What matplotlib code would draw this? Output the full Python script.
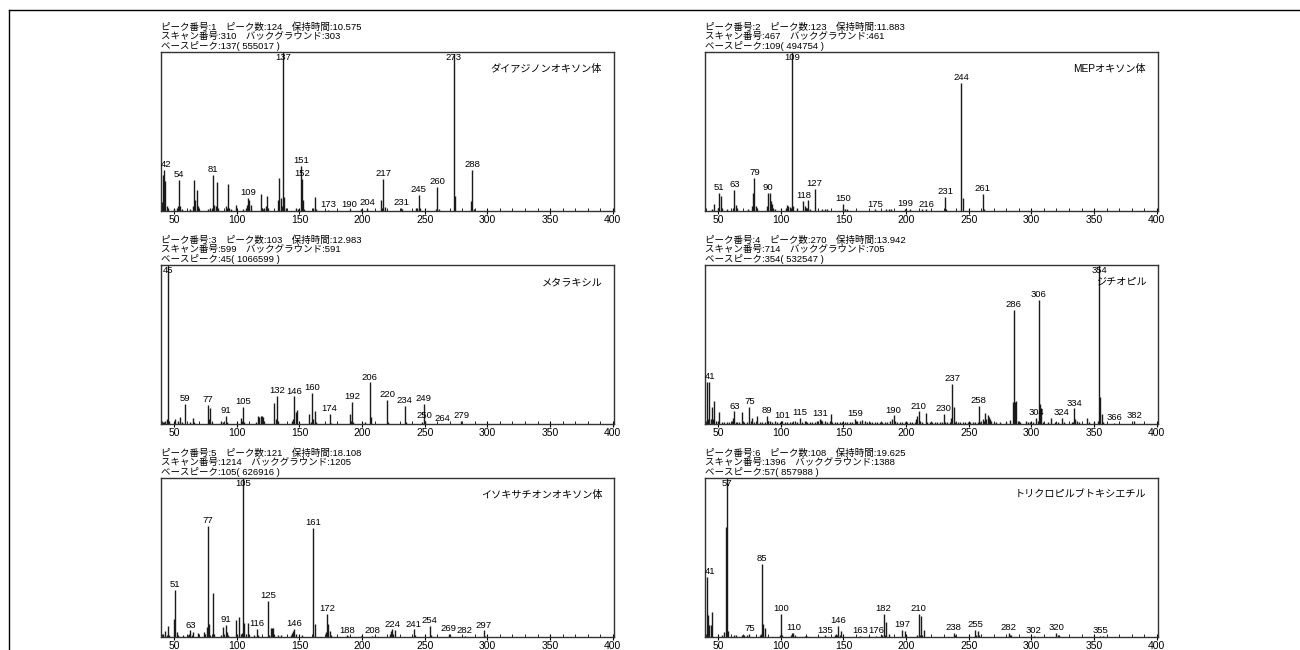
import matplotlib
matplotlib.use('Agg')
import matplotlib.pyplot as plt
from matplotlib.lines import Line2D
from matplotlib.ticker import MultipleLocator

plt.rcParams['font.family'] = ['Liberation Sans', 'Noto Sans CJK JP']

# ---------------- Panel 1 ----------------
p1_name = "ダイアジノンオキソン体"
p1_header = ["ピーク番号:1　ピーク数:124　保持時間:10.575",
             "スキャン番号:310　バックグラウンド:303",
             "ベースピーク:137( 555017 )"]
p1_mz = [40, 41, 42, 43, 44, 45, 50, 52, 53, 54, 55, 56, 63, 65, 66, 67, 68, 69, 70, 77,
         79, 80, 81, 82, 83, 84, 85, 91, 92, 93, 94, 95, 99, 105, 107, 108, 109, 110, 111,
         119, 120, 121, 122, 123, 124, 125, 133, 134, 135, 136, 137, 138, 139, 147, 149,
         151, 152, 153, 154, 161, 162, 163, 173, 190, 199, 204, 215, 216, 217, 218, 231,
         232, 243, 244, 245, 246, 259, 260, 261, 273, 274, 287, 288, 289]
p1_int = [5.7, 22.5, 26, 19, 3, 2, 1, 2, 3, 19.4, 3, 1, 1, 3, 19.4, 6.7, 13, 3, 1, 1,
          2, 1.5, 22.5, 4, 3, 18, 2, 3, 2, 17, 2, 1, 4, 1, 2, 4, 8.4, 6.7, 4,
          11, 2, 1, 2, 3, 9.3, 2, 7, 21, 8, 3, 100, 9, 2, 2, 1,
          28.4, 20.4, 6.7, 1, 2, 9, 1, 0.5, 1, 1.5, 2, 6.7, 2, 20, 2.5, 2,
          1.5, 2, 2, 10.3, 2, 1, 15.2, 1.5, 99, 9.3, 6, 25.7, 1.5]
p1_labels = [42, 54, 81, 109, 137, 151, 152, 173, 190, 204, 217, 231, 245, 260, 273, 288]

# ---------------- Panel 2 ----------------
p2_name = "MEPオキソン体"
p2_header = ["ピーク番号:2　ピーク数:123　保持時間:11.883",
             "スキャン番号:467　バックグラウンド:461",
             "ベースピーク:109( 494754 )"]
p2_mz = [45, 47, 50, 51, 52, 53, 57, 62, 63, 64, 65, 74, 77, 78, 79, 80, 81, 89, 90, 91,
         92, 93, 94, 95, 104, 105, 106, 107, 108, 109, 110, 113, 118, 119, 120, 121, 122,
         123, 127, 133, 135, 137, 150, 151, 153, 175, 184, 186, 188, 199, 200, 203, 213,
         216, 231, 232, 244, 245, 261, 262]
p2_int = [1, 4.2, 2, 11.4, 9.3, 2, 1, 2, 13.5, 4, 2, 1, 3, 11.6, 21, 3, 2, 3, 11.4, 11.4,
          6, 4.5, 2, 1, 2, 4, 3, 2.5, 2, 100, 3, 2, 6.3, 3, 2, 2, 6.7,
          1, 14, 1, 1.5, 1, 4.2, 1, 1, 1, 1, 1, 1, 1.5, 0.5, 1, 1,
          1, 8.8, 1, 80.4, 8.4, 11, 1]
p2_labels = [51, 63, 79, 90, 109, 118, 127, 150, 175, 199, 216, 231, 244, 261]

# ---------------- Panel 3 ----------------
p3_name = "メタラキシル"
p3_header = ["ピーク番号:3　ピーク数:103　保持時間:12.983",
             "スキャン番号:599　バックグラウンド:591",
             "ベースピーク:45( 1066599 )"]
p3_mz = [41, 42, 43, 44, 45, 46, 51, 53, 55, 56, 59, 63, 65, 66, 77, 78, 79, 80, 87, 89,
         91, 92, 103, 104, 105, 106, 115, 117, 118, 119, 120, 121, 122, 130, 131, 132, 133,
         144, 145, 146, 147, 148, 158, 159, 160, 161, 162, 163, 174, 175, 190, 191, 192,
         193, 202, 206, 207, 220, 221, 234, 235, 248, 249, 250, 264, 279]
p3_int = [1, 1, 2, 3, 100, 2, 3, 2, 4.6, 1, 12.5, 1, 4, 1, 11.9, 3, 10, 1, 2, 1,
          5, 1, 4, 2, 10.8, 1, 1, 5, 4.5, 5, 5, 4.5, 2, 13.5, 3, 17.9, 2,
          2, 3, 17.3, 7.5, 9, 6.25, 1, 19.6, 3, 7.9, 1, 6.25, 0.5, 6.25, 2, 13.75,
          1, 1.5, 26.2, 4.6, 15.2, 1, 11.5, 1, 1.5, 12.5, 2, 0.3, 2]
p3_labels = [45, 59, 77, 91, 105, 132, 146, 160, 174, 192, 206, 220, 234, 249, 250, 264, 279]

# ---------------- Panel 4 ----------------
p4_name = "ジチオピル"
p4_header = ["ピーク番号:4　ピーク数:270　保持時間:13.942",
             "スキャン番号:714　バックグラウンド:705",
             "ベースピーク:354( 532547 )"]
p4_mz = [41, 42, 43, 44, 45, 46, 47, 48, 50, 51, 53, 55, 57, 59, 61, 62, 63, 64, 65, 67,
         69, 71, 73, 75, 76, 77, 79, 81, 83, 85, 87, 89, 90, 91, 93, 95, 97, 99, 101, 103,
         105, 107, 109, 111, 113, 115, 117, 119, 121, 123, 125, 127, 129, 131, 132, 133,
         135, 137, 139, 140, 141, 143, 145, 147, 149, 151, 153, 155, 157, 159, 160, 161,
         163, 165, 167, 169, 171, 173, 175, 177, 179, 181, 183, 185, 187, 189, 190, 191,
         193, 195, 197, 199, 201, 203, 205, 207, 208, 209, 210, 211, 213, 216, 217, 219,
         221, 223, 225, 227, 229, 230, 231, 233, 235, 236, 237, 238, 239, 241, 243, 245,
         247, 249, 251, 253, 255, 257, 258, 259, 261, 262, 263, 264, 265, 266, 267, 268,
         270, 272, 275, 280, 283, 285, 286, 287, 288, 289, 291, 296, 297, 299, 301, 304,
         305, 306, 307, 308, 309, 313, 316, 319, 321, 324, 326, 332, 333, 334, 335, 336,
         338, 344, 346, 350, 353, 354, 355, 356, 357, 366, 373, 382]
p4_int = [26.5, 3, 26.5, 3, 10.8, 3, 14.5, 2, 1, 7.3, 1, 1.5, 1, 1, 2, 4, 7.9, 1.5, 1, 1,
          7.3, 1, 1, 10.8, 2, 4, 1, 5, 1, 1, 1, 5, 2, 2, 1, 2, 1, 1, 2, 1,
          1, 1.5, 1, 2, 1, 3.7, 1, 2, 1.5, 1, 1, 1.5, 2, 3, 2.5, 2,
          2, 1.5, 2, 6.2, 1, 1, 1.5, 1, 1, 1.5, 1, 1, 1.5, 3, 1.5, 2,
          2, 2.5, 2, 1.5, 1, 1, 1, 1, 1.5, 1, 1, 1.5, 2, 3, 5.4, 2,
          1, 1, 1, 1.5, 1, 1, 1, 1.5, 3, 5, 7.9, 2, 1, 6.8, 1.5, 1,
          1.5, 1, 1, 1.5, 1, 6.2, 1.5, 1, 1, 4, 25.3, 10.4, 1.5, 1, 1.5, 1,
          1, 1, 1, 1.5, 1, 1.5, 11.6, 1, 3, 2, 7, 3, 5.5, 4.5, 3, 2,
          1, 1, 1, 1, 2.5, 14, 72, 14, 14.5, 2, 1, 2, 1, 1, 1, 3.7,
          2, 77.8, 12.4, 10, 1.5, 1, 3.7, 1, 1, 3.7, 1, 1, 1.5, 9.8, 3, 2,
          1, 3.7, 1, 1, 2, 100, 17, 6, 1, 0.5, 0.3, 1.7]
p4_labels = [41, 63, 75, 89, 101, 115, 131, 159, 190, 210, 230, 237, 258, 286, 304, 306,
             324, 334, 354, 366, 382]

# ---------------- Panel 5 ----------------
p5_name = "イソキサチオンオキソン体"
p5_header = ["ピーク番号:5　ピーク数:121　保持時間:18.108",
             "スキャン番号:1214　バックグラウンド:1205",
             "ベースピーク:105( 626916 )"]
p5_mz = [41, 43, 44, 45, 46, 50, 51, 52, 53, 57, 61, 62, 63, 64, 65, 69, 74, 75, 76, 77,
         78, 79, 81, 82, 87, 89, 90, 91, 92, 93, 99, 100, 102, 103, 104, 105, 106, 107,
         109, 110, 114, 116, 117, 125, 126, 127, 128, 129, 130, 133, 135, 143, 144, 145,
         146, 147, 152, 161, 162, 171, 172, 173, 174, 175, 188, 189, 199, 208, 222, 223,
         224, 225, 226, 241, 242, 254, 255, 269, 270, 282, 297, 298]
p5_int = [2, 3.5, 1, 7, 1, 11.4, 29.5, 3, 1, 1, 1, 2, 4.1, 1, 3, 2.5, 3, 2, 6, 69.9,
          8, 1, 27.8, 2, 1, 6.2, 1, 7.7, 3, 1, 10.4, 1, 12.4, 2, 2.5, 100, 8.7, 2,
          9, 1, 1, 5, 1, 22.8, 1, 5.8, 5.5, 5.5, 1.5, 1, 1, 1.5, 2.5, 4,
          5, 2, 1, 68.5, 8.3, 3, 14.5, 7.9, 3.5, 1, 1, 0.5, 0.5, 0.5, 2, 3.5,
          4.8, 2, 4.1, 4.8, 1, 6.8, 1, 2, 1, 0.5, 4.1, 0.5]
p5_labels = [51, 63, 77, 91, 105, 116, 125, 146, 161, 172, 188, 208, 224, 241, 254, 269,
             282, 297]

# ---------------- Panel 6 ----------------
p6_name = "トリクロピルブトキシエチル"
p6_header = ["ピーク番号:6　ピーク数:108　保持時間:19.625",
             "スキャン番号:1396　バックグラウンド:1388",
             "ベースピーク:57( 857988 )"]
p6_mz = [41, 42, 43, 44, 45, 53, 55, 56, 57, 58, 63, 64, 69, 71, 73, 75, 83, 84, 85, 86,
         87, 99, 100, 101, 108, 109, 110, 111, 119, 121, 135, 143, 144, 145, 146, 147, 148,
         163, 170, 176, 180, 181, 182, 183, 184, 186, 197, 199, 200, 209, 210, 211, 212,
         213, 214, 238, 239, 255, 256, 257, 258, 282, 283, 284, 302, 320, 321, 322, 355, 357]
p6_int = [37.7, 14, 7.5, 7.5, 15.6, 1, 3, 69.4, 100, 4, 1, 1, 1, 1, 1.5, 1.7, 1, 2, 45.8, 8.3,
          5.8, 1, 14.6, 1, 1.5, 2.5, 2.7, 1.5, 0.5, 0.5, 1, 1.5, 2, 1, 6.9, 1, 3.75,
          0.5, 0.5, 0.5, 1, 1, 14.6, 1.5, 9.6, 2, 4.6, 3.5, 1, 1, 14.6, 1.5, 12.9,
          1, 4.2, 2.7, 1, 4.4, 1, 3.5, 1, 2.7, 1, 1.5, 0.5, 2.7, 1, 1.5, 0.6, 0.5]
p6_labels = [41, 57, 75, 85, 100, 110, 135, 146, 163, 176, 182, 197, 210, 238, 255, 282,
             302, 320, 355]

panels = [
    (p1_mz, p1_int, p1_labels, p1_name, p1_header),
    (p2_mz, p2_int, p2_labels, p2_name, p2_header),
    (p3_mz, p3_int, p3_labels, p3_name, p3_header),
    (p4_mz, p4_int, p4_labels, p4_name, p4_header),
    (p5_mz, p5_int, p5_labels, p5_name, p5_header),
    (p6_mz, p6_int, p6_labels, p6_name, p6_header),
]

W, H = 1300, 650
fig = plt.figure(figsize=(13, 6.5), dpi=100)

lefts = [161, 705]
width = 453
bottoms = [211, 424, 637]
height = 159
XMIN, XMAX = 39.5, 401
PX_PER_UNIT = width / (XMAX - XMIN)

LBL = 6.8
for i, (mz, inten, labels, name, header) in enumerate(panels):
    row, col = divmod(i, 2)
    ax = fig.add_axes([lefts[col] / W, 1 - bottoms[row] / H, width / W, height / H])
    ax.vlines(mz, 0, inten, colors='#1a1a1a', lw=1.0)
    ax.set_xlim(XMIN, XMAX)
    ax.set_ylim(0, 100)
    ax.set_yticks([])
    ax.xaxis.set_major_locator(MultipleLocator(50))
    ax.xaxis.set_minor_locator(MultipleLocator(10))
    ax.tick_params(axis='x', which='major', direction='inout', length=4, width=0.8,
                   labelsize=7.5, pad=1)
    ax.tick_params(axis='x', which='minor', direction='in', length=2, width=0.6)
    for s in ax.spines.values():
        s.set_color('#333333')
        s.set_linewidth(1.0)
    lookup = dict(zip(mz, inten))
    for m in labels:
        h = lookup[m]
        # keep labels near the left spine mostly inside the frame (as the source software does)
        bar_px = (m - XMIN) * PX_PER_UNIT
        dx_pt = max(0.0, 5.0 - bar_px) * 0.72
        if h > 92:
            ax.annotate(str(m), (m, 99.3), xytext=(dx_pt, 0), textcoords='offset points',
                        ha='center', va='top', fontsize=LBL, clip_on=True,
                        annotation_clip=False)
        else:
            ax.annotate(str(m), (m, h), xytext=(dx_pt, 0.6), textcoords='offset points',
                        ha='center', va='bottom', fontsize=LBL, clip_on=True,
                        annotation_clip=False)
    ax.text(0.974, 0.893, name, transform=ax.transAxes, ha='right', va='center',
            fontsize=7.3)
    for k, line in enumerate(header):
        ax.annotate(line, (0, 1), xycoords='axes fraction',
                    xytext=(0, 17.6 - 6.5 * k), textcoords='offset points',
                    ha='left', va='center', fontsize=6.8, annotation_clip=False)

fig.add_artist(Line2D([9 / W, 1], [1 - 10 / H, 1 - 10 / H], transform=fig.transFigure,
                      color='black', lw=1))
fig.add_artist(Line2D([9 / W, 9 / W], [0, 1 - 10 / H], transform=fig.transFigure,
                      color='black', lw=1))

fig.savefig('out.png', dpi=100)
